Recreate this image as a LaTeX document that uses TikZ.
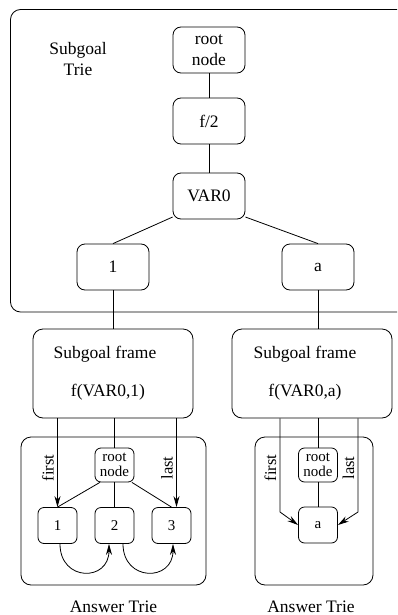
\documentclass[tikz,border=0pt]{standalone}
\usepackage{fontspec}
\setmainfont{Liberation Serif}
\usepackage{tikz}
\usetikzlibrary{positioning, arrows.meta, shapes}

\newcommand{\bigtext}{\fontsize{17.5}{21}\selectfont}
\newcommand{\smalltext}{\fontsize{15}{15}\selectfont}
\newcommand{\edgetext}{\fontsize{16.5}{20}\selectfont}

\tikzstyle{trienode} = [rectangle, rounded corners=8pt, minimum width=72pt, minimum height=46pt, text centered, align=center, draw=black, font=\bigtext]
\tikzstyle{ansnode} = [rectangle, rounded corners=6pt, minimum width=39pt, minimum height=36pt, text centered, align=center, draw=black, font=\smalltext]
\tikzstyle{sgframe} = [rectangle, rounded corners=10pt, minimum width=160pt, minimum height=89pt, align=center, draw=black, font=\bigtext]
\tikzstyle{triebox} = [rectangle, rounded corners=10pt, draw=black]
\tikzstyle{edgelabel} = [anchor=south, rotate=90, font=\edgetext]
\tikzstyle{arrow} = [thick,->,>={Stealth[length=11pt,width=6pt]}]

\begin{document}
\begin{tikzpicture}[x=1pt, y=1pt, thick, node distance=71pt]
        \useasboundingbox (0,0) rectangle (397,-615);
        \clip (0,0) rectangle (397,-615);

        % subgoal trie
        \node (sgtrie) [triebox, minimum width=400pt, minimum height=302.5pt] at (210.5,-160.75) {};
        \node (sgtitle) [font=\bigtext, align=center] at (78,-59) {Subgoal\\Trie};
        \node (root) [trienode] at (209,-50) {root\\node};
        \node (f2) [trienode, below of=root] {f/2};
        \node (var0) [trienode, below of=f2, yshift=-4pt] {VAR0};
        \node (one) [trienode] at (113,-267) {1};
        \node (a) [trienode, right of=one, node distance=205pt] {a};

        \draw (root) -- (f2);
        \draw (f2) -- (var0);
        \draw (var0.-150) -- (one.north);
        \draw (var0.-30) -- (a.north);

        % subgoal frames
        \node (sgf1) [sgframe] at (113,-373.5) {Subgoal frame\hspace*{16pt}\\[17pt]f(VAR0,1)\hspace*{10pt}};
        \node (sgf2) [sgframe] at (312,-373.5) {Subgoal frame\hspace*{14pt}\\[17pt]f(VAR0,a)\hspace*{14pt}};
        \draw (one) -- (one |- sgf1.north);
        \draw (a) -- (a |- sgf2.north);

        % answer tries
        \node (atrie1) [triebox, minimum width=185pt, minimum height=148pt] at (113.5,-511) {};
        \node (atrie2) [triebox, minimum width=118pt, minimum height=148pt] at (314,-511) {};
        \node (atlabel1) [font=\bigtext, below=12pt of atrie1] {Answer Trie};
        \node (atlabel2) [font=\bigtext, below=12pt of atrie2, xshift=-3pt] {Answer Trie};

        % left answer trie: 1, 2, 3
        \node (aroot1) [ansnode, minimum height=34pt] at (114.5,-465) {root\\node};
        \node (n1) [ansnode] at (57.5,-525.5) {1};
        \node (n2) [ansnode, right of=n1, node distance=57pt] {2};
        \node (n3) [ansnode, right of=n2, node distance=57pt] {3};
        \coordinate (last1) at ([xshift=5pt]n3.north);

        \draw (aroot1) -- (aroot1 |- sgf1.south);
        \draw (aroot1.-130) -- (n1.north);
        \draw (aroot1) -- (n2);
        \draw (aroot1.-45) -- (n3.north);
        \draw [arrow] (sgf1.south -| n1.north) -- node[edgelabel, pos=0.56]{first} (n1.north);
        \draw [arrow] (last1 |- sgf1.south) -- node[edgelabel, pos=0.56]{last} (last1);
        \draw [arrow] ([xshift=2.5pt]n1.south) .. controls +(0,-38) and +(0,-38) .. ([xshift=-5.5pt]n2.south);
        \draw [arrow] ([xshift=8.5pt]n2.south) .. controls +(0,-38) and +(0,-38) .. ([xshift=1.5pt]n3.south);

        % right answer trie: a
        \node (aroot2) [ansnode, minimum height=34pt] at (318,-465) {root\\node};
        \node (na) [ansnode] at (318,-525) {a};
        \coordinate (bend1) at ([xshift=-38pt, yshift=13pt]na.center);
        \coordinate (bend2) at ([xshift=40pt, yshift=13pt]na.center);

        \draw (aroot2) -- (aroot2 |- sgf2.south);
        \draw (aroot2) -- (na);
        \draw [arrow] (bend1 |- sgf2.south) -- node[edgelabel, pos=0.53]{first} (bend1) -- (na.west);
        \draw [arrow] (bend2 |- sgf2.south) -- node[edgelabel, pos=0.53]{last} (bend2) -- (na.east);

        \end{tikzpicture}
\end{document}
